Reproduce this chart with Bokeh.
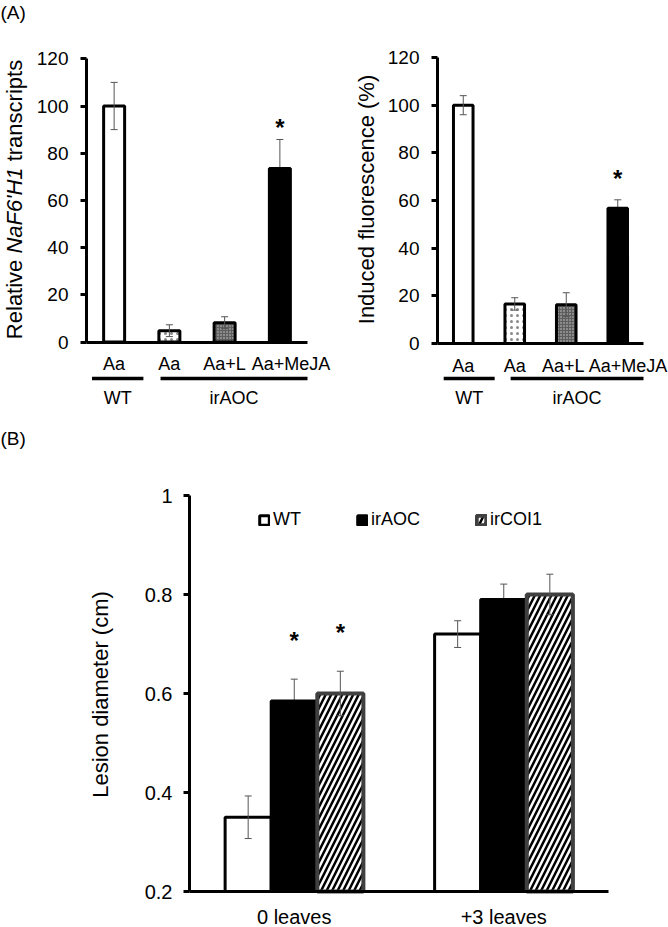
from math import pi
from bokeh.plotting import figure
from bokeh.models import (ColumnDataSource, Range1d, FixedTicker,
                          Whisker, TeeHead, Label, Legend, LegendItem)
from bokeh.layouts import column, row
from bokeh.transform import dodge
from bokeh.core.properties import value
from bokeh.embed import file_html
from bokeh.resources import INLINE

FONT = "Liberation Sans"
ERR = "#555555"

# ---------------- data: panel A ----------------
a_labels = ["Aa", "Aa", "Aa+L", "Aa+MeJA"]
a_genotype = ["WT", "irAOC", "irAOC", "irAOC"]
transcripts_mean = [100, 4.8, 8.2, 73.5]
transcripts_err = [10, 2.5, 2.5, 12.3]
fluor_mean = [100, 16.6, 16.3, 56.8]
fluor_err = [4.0, 2.6, 5.0, 3.5]
a_sig = [False, False, False, True]
a_ticks = [0, 20, 40, 60, 80, 100, 120]

# ---------------- data: panel B ----------------
b_groups = ["0 leaves", "+3 leaves"]
b_series = ["WT", "irAOC", "irCOI1"]
wt_mean = [0.35, 0.72]
wt_err = [0.043, 0.027]
aoc_mean = [0.585, 0.79]
aoc_err = [0.044, 0.031]
coi_mean = [0.60, 0.80]
coi_err = [0.045, 0.041]
aoc_sig = [True, False]
coi_sig = [True, False]
b_ticks = [0.2, 0.4, 0.6, 0.8, 1.0]
b_tick_labels = ["0.2", "0.4", "0.6", "0.8", "1"]

# ---------------- styles ----------------
a_fill = ["white", "white", "#5e5e5e", "black"]
a_hatch = [" ", "dot", "dot", " "]
a_hatch_color = ["black", "#8a8a8a", "#d0d0d0", "black"]
a_hatch_scale = [6, 6, 3, 6]

A_H = 414
SPACE_EM = 0.278
a_pos = [i + 0.5 for i in range(len(a_labels))]
b_pos = [i + 0.5 for i in range(len(b_groups))]


def style_axis(ax, size):
    ax.axis_line_width = 3
    ax.axis_line_color = "black"
    ax.minor_tick_line_color = None
    ax.major_label_text_font = FONT
    ax.major_label_text_font_size = f"{size}px"
    ax.major_label_text_color = "black"


def whisker(p, xs, lows, ups, level="annotation"):
    if len(xs) == 0:
        return
    s = ColumnDataSource(dict(x=xs, lower=lows, upper=ups))
    p.add_layout(Whisker(source=s, base="x", lower="lower", upper="upper", level=level,
                         line_color=ERR, line_width=1,
                         upper_head=TeeHead(size=7, line_color=ERR, line_width=1),
                         lower_head=TeeHead(size=7, line_color=ERR, line_width=1)))


def make_a(means, errs, width, x0, xu, y0, yu, title_parts, title_x, star_off,
           wt_span, ir_span, label_shift, tag=None):
    # x0/y0: pixel position of the axes origin inside the canvas, xu/yu: px per unit
    p = figure(width=width, height=A_H, title=None,
               x_range=Range1d(-x0 / xu, (width - x0) / xu),
               y_range=Range1d(-(A_H - y0) / yu, y0 / yu),
               output_backend="svg", toolbar_location=None, min_border=0)
    src = ColumnDataSource(dict(x=a_pos, top=means, fill=a_fill, hatch=a_hatch,
                                hcol=a_hatch_color, hscale=a_hatch_scale))
    p.vbar(x="x", top="top", bottom=0, width=0.38, source=src,
           fill_color="fill", hatch_pattern="hatch", hatch_color="hcol",
           hatch_scale="hscale", hatch_weight=1.2,
           line_color="black", line_width=3)
    light = [i for i in range(len(a_pos)) if a_fill[i] != "black"]
    dark = [i for i in range(len(a_pos)) if a_fill[i] == "black"]
    whisker(p, [a_pos[i] for i in light], [means[i] - errs[i] for i in light],
            [means[i] + errs[i] for i in light])
    whisker(p, [a_pos[i] for i in dark], [means[i] - errs[i] for i in dark],
            [means[i] + errs[i] for i in dark], level="underlay")
    sx = [a_pos[i] for i in range(len(a_pos)) if a_sig[i]]
    sy = [means[i] + errs[i] for i in range(len(a_pos)) if a_sig[i]]
    p.text(x=sx, y=sy, text=["*"] * len(sx), text_font=value(FONT),
           text_font_style="bold", text_font_size="24px", text_align="center",
           text_baseline="alphabetic", y_offset=star_off, text_color="black")

    tick_pos = [a + s for a, s in zip(a_pos, label_shift)]
    p.xaxis.fixed_location = 0
    p.xaxis.bounds = (0, len(a_labels))
    p.xaxis.ticker = FixedTicker(ticks=tick_pos)
    p.xaxis.major_label_overrides = dict(zip(tick_pos, a_labels))
    style_axis(p.xaxis[0], 18)
    p.xaxis.major_tick_line_color = None
    p.xaxis.major_label_standoff = 6
    p.yaxis.fixed_location = 0
    p.yaxis.bounds = (0, 120)
    p.yaxis.ticker = FixedTicker(ticks=a_ticks)
    style_axis(p.yaxis[0], 19)
    p.yaxis.major_tick_line_width = 3
    p.yaxis.major_tick_line_color = "black"
    p.yaxis.major_tick_out = 6
    p.yaxis.major_tick_in = 0
    p.yaxis.major_label_standoff = 12
    p.grid.visible = False
    p.outline_line_color = None

    # genotype brackets under the category labels
    groups = []
    for g in a_genotype:
        if g not in groups:
            groups.append(g)
    spans = [wt_span, ir_span]
    line_y = (y0 - 378) / yu
    text_y = (y0 - 397) / yu
    p.segment(x0=[s[0] for s in spans], y0=[line_y] * 2, x1=[s[1] for s in spans],
              y1=[line_y] * 2, line_color="black", line_width=3.5)
    p.text(x=[(s[0] + s[1]) / 2 for s in spans], y=[text_y] * 2, text=groups,
           text_font=value(FONT), text_font_size="18px", text_align="center",
           text_baseline="middle", text_color="black")

    # vertical axis title (may mix regular and italic pieces)
    size = 22
    if len(title_parts) == 1:
        p.add_layout(Label(x=title_x, x_units="screen", y=A_H - 199, y_units="screen",
                           text=title_parts[0][0], angle=pi / 2, text_align="center",
                           text_baseline="middle", text_font=FONT,
                           text_font_style=title_parts[0][1],
                           text_font_size=f"{size}px", text_color="black"))
    else:
        total = sum(w for _, _, w in title_parts) + SPACE_EM * (len(title_parts) - 1)
        ys = (A_H - 199) - total * size / 2
        for text, style, w in title_parts:
            p.add_layout(Label(x=title_x, x_units="screen", y=ys, y_units="screen",
                               text=text, angle=pi / 2, text_align="left",
                               text_baseline="middle", text_font=FONT,
                               text_font_style=style, text_font_size=f"{size}px",
                               text_color="black"))
            ys += (w + SPACE_EM) * size
    if tag:
        p.add_layout(Label(x=0, x_units="screen", y=A_H - 12, y_units="screen",
                           text=tag, text_align="left", text_baseline="middle",
                           text_font=FONT, text_font_size="19px", text_color="black"))
    return p


pa1 = make_a(transcripts_mean, transcripts_err, 334, 86, 55.25, 341.5, 2.36,
             [("Relative", "normal", 3.612), ("NaF6'H1", "italic", 3.914),
              ("transcripts", "normal", 4.612)],
             13.5, -12, (0.1, 1.03), (1.34, 4.0), [0, 0, 0, 0.2], tag="(A)")
pa2 = make_a(fluor_mean, fluor_err, 334, 103, 51.5, 343, 2.383,
             [("Induced fluorescence (%)", "normal", 0)],
             32, -21, (0.12, 1.11), (1.42, 4.0), [0, 0, -0.06, 0.2])

# ---------------- panel B ----------------
B_H = 512
B_W = 668
BX0, BXU = 189, 209.5      # y axis pixel, px per category
BY0, BYU = 477, 495        # pixel of 0.2 baseline, px per cm
pb = figure(width=B_W, height=B_H, title=None,
            x_range=Range1d(-BX0 / BXU, (B_W - BX0) / BXU),
            y_range=Range1d(0.2 - (B_H - BY0) / BYU, 0.2 + BY0 / BYU),
            output_backend="svg", toolbar_location=None, min_border=0)

offs = [-0.22, 0.0, 0.22]
srcB = ColumnDataSource(dict(x=b_pos, wt=wt_mean, aoc=aoc_mean, coi=coi_mean))
r_wt = pb.vbar(x=dodge("x", offs[0]), top="wt", bottom=0.2, width=0.22,
               source=srcB, fill_color="white", line_color="black", line_width=3)
r_aoc = pb.vbar(x=dodge("x", offs[1]), top="aoc", bottom=0.2, width=0.22,
                source=srcB, fill_color="black", line_color="black", line_width=3)
r_coi = pb.vbar(x=dodge("x", offs[2]), top="coi", bottom=0.2, width=0.22,
                source=srcB, fill_color="white", hatch_pattern="/", hatch_color="black",
                hatch_weight=2.5, hatch_scale=11, line_color="#404040", line_width=4)

for off, m, e, lvl in [(offs[0], wt_mean, wt_err, "annotation"),
                       (offs[1], aoc_mean, aoc_err, "underlay"),
                       (offs[2], coi_mean, coi_err, "annotation")]:
    s = ColumnDataSource(dict(x=b_pos, lower=[a - b for a, b in zip(m, e)],
                              upper=[a + b for a, b in zip(m, e)]))
    pb.add_layout(Whisker(source=s, base=dodge("x", off), lower="lower", upper="upper",
                          level=lvl, line_color=ERR, line_width=1,
                          upper_head=TeeHead(size=7, line_color=ERR, line_width=1),
                          lower_head=TeeHead(size=7, line_color=ERR, line_width=1)))

for off, m, e, sig in [(offs[1], aoc_mean, aoc_err, aoc_sig),
                       (offs[2], coi_mean, coi_err, coi_sig)]:
    xs = [b_pos[i] for i in range(len(b_pos)) if sig[i]]
    ys = [m[i] + e[i] for i in range(len(b_pos)) if sig[i]]
    s = ColumnDataSource(dict(x=xs, y=ys, t=["*"] * len(xs)))
    pb.text(x=dodge("x", off), y="y", text="t", source=s,
            text_font=value(FONT), text_font_style="bold", text_font_size="24px",
            text_align="center", text_baseline="alphabetic", y_offset=-39,
            text_color="black")

pb.add_layout(Legend(items=[LegendItem(label=b_series[0], renderers=[r_wt]),
                            LegendItem(label=b_series[1], renderers=[r_aoc]),
                            LegendItem(label=b_series[2], renderers=[r_coi])],
                     orientation="horizontal", location=(258, 396),
                     border_line_color=None, background_fill_alpha=0,
                     glyph_width=12, glyph_height=12, label_standoff=3, spacing=55,
                     padding=0, margin=0, label_text_font=FONT,
                     label_text_font_size="18px", label_text_color="black"))

pb.xaxis.fixed_location = 0.2
pb.xaxis.bounds = (0, len(b_groups))
pb.xaxis.ticker = FixedTicker(ticks=b_pos)
pb.xaxis.major_label_overrides = dict(zip(b_pos, b_groups))
style_axis(pb.xaxis[0], 20)
pb.xaxis.major_tick_line_color = None
pb.xaxis.major_label_standoff = 8
pb.yaxis.fixed_location = 0
pb.yaxis.bounds = (0.2, 1.0)
pb.yaxis.ticker = FixedTicker(ticks=b_ticks)
pb.yaxis.major_label_overrides = dict(zip(b_ticks, b_tick_labels))
style_axis(pb.yaxis[0], 20)
pb.yaxis.major_tick_line_width = 3
pb.yaxis.major_tick_line_color = "black"
pb.yaxis.major_tick_out = 6
pb.yaxis.major_tick_in = 0
pb.yaxis.major_label_standoff = 11
pb.grid.visible = False
pb.outline_line_color = None
pb.add_layout(Label(x=100, x_units="screen", y=B_H - (694 - 414), y_units="screen",
                    text="Lesion diameter (cm)", angle=pi / 2, text_align="center",
                    text_baseline="middle", text_font=FONT, text_font_size="22px",
                    text_color="black"))
pb.add_layout(Label(x=0, x_units="screen", y=B_H - (438 - 414), y_units="screen",
                    text="(B)", text_align="left", text_baseline="middle",
                    text_font=FONT, text_font_size="19px", text_color="black"))

layout = column(row(pa1, pa2), pb)
open("out.html", "w").write(file_html(layout, INLINE))
